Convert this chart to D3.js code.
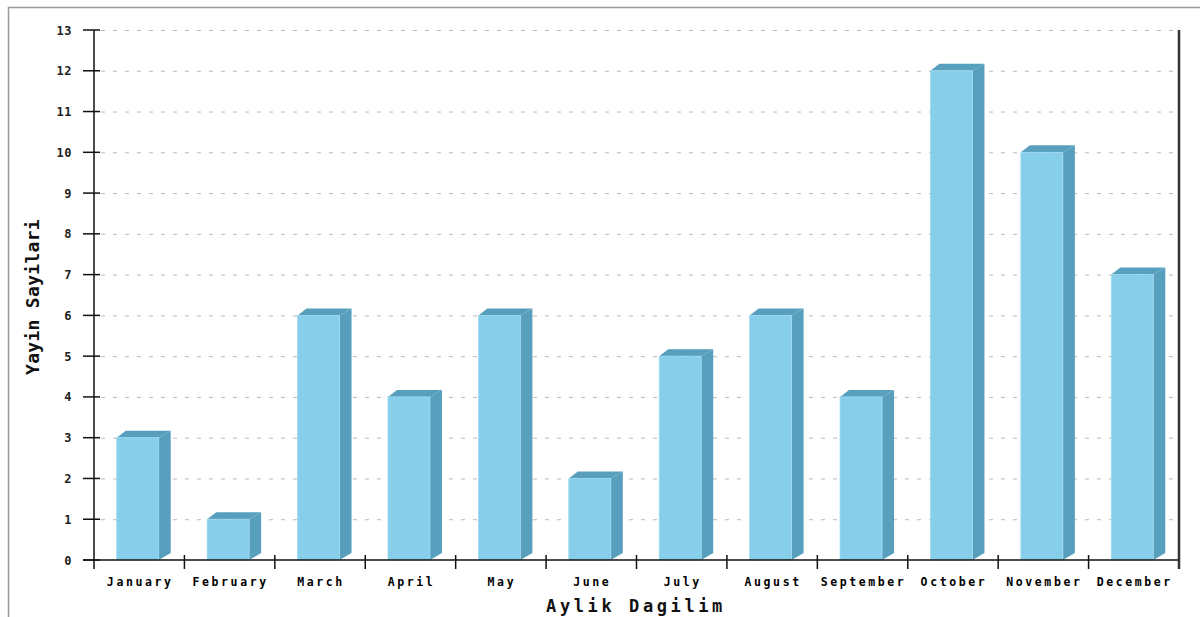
<!DOCTYPE html>
<html>
<head>
<meta charset="utf-8">
<script src="https://cdn.jsdelivr.net/npm/d3@7"></script>
<style>
  body { margin: 0; background: #fff; }
  svg { display: block; }
</style>
</head>
<body>
<div id="chart"></div>
<script>
var months = ["January","February","March","April","May","June","July","August","September","October","November","December"];
var counts = [3, 1, 6, 4, 6, 2, 5, 6, 4, 12, 10, 7];
var yTicks = d3.range(0, 14);

function drawChart(){
  var W = 1200, H = 617;
  var plotLeft = 94, plotRight = 1179, plotTop = 30, plotBottom = 560;
  var depthX = 12, depthY = 7;

  var svg = d3.select("#chart").append("svg")
    .attr("width", W).attr("height", H);

  // outer frame
  svg.append("path")
    .attr("d", "M8.5," + H + " L8.5,7.5 L" + W + ",7.5")
    .attr("fill", "none").attr("stroke", "#999").attr("stroke-width", 1.5);

  var x = d3.scaleBand().domain(months).range([plotLeft, plotRight]).padding(0);
  var y = d3.scaleLinear().domain([0, 13]).range([plotBottom, plotTop]);

  // grid
  svg.append("g").selectAll("line")
    .data(yTicks.filter(function(d){ return d > 0; }))
    .enter().append("line")
    .attr("x1", plotLeft + 7).attr("x2", plotRight - 4)
    .attr("y1", function(d){ return y(d) + 0.5; })
    .attr("y2", function(d){ return y(d) + 0.5; })
    .attr("stroke", "#bbb").attr("stroke-dasharray", "4,8");

  // bars
  var frontW = 42;
  var bars = svg.append("g").selectAll("g")
    .data(months.map(function(m, i){ return {m: m, v: counts[i]}; }))
    .enter().append("g");

  bars.each(function(d){
    var g = d3.select(this);
    var x0 = x(d.m) + x.bandwidth() / 2 - frontW / 2 - 1.5;
    var x1 = x0 + frontW;
    var yt = y(d.v), yb = y(0);
    g.append("path")
      .attr("d", "M" + x1 + "," + yt + " L" + (x1 + depthX) + "," + (yt - depthY) +
        " L" + (x1 + depthX) + "," + (yb - depthY) + " L" + x1 + "," + yb + "Z")
      .attr("fill", "#579fbd");
    g.append("path")
      .attr("d", "M" + x0 + "," + yt + " L" + (x0 + depthX - 3) + "," + (yt - depthY) +
        " L" + (x1 + depthX) + "," + (yt - depthY) + " L" + x1 + "," + yt + "Z")
      .attr("fill", "#579fbd");
    g.append("rect")
      .attr("x", x0).attr("y", yt)
      .attr("width", frontW).attr("height", yb - yt)
      .attr("fill", "#87ceeb").attr("stroke", "#9fd9f0").attr("stroke-width", 0.8);
  });

  // axes lines
  var axisCol = "#111";
  svg.append("line").attr("x1", plotLeft).attr("x2", plotLeft)
    .attr("y1", plotTop).attr("y2", plotBottom + 9).attr("stroke", axisCol).attr("stroke-width", 1.5);
  svg.append("line").attr("x1", plotLeft - 11).attr("x2", plotRight)
    .attr("y1", plotBottom).attr("y2", plotBottom).attr("stroke", axisCol).attr("stroke-width", 1.5);
  svg.append("line").attr("x1", plotRight).attr("x2", plotRight)
    .attr("y1", plotTop).attr("y2", plotBottom + 9).attr("stroke", "#333").attr("stroke-width", 2.5);

  // y ticks
  var yg = svg.append("g");
  yg.selectAll("line").data(yTicks).enter().append("line")
    .attr("x1", plotLeft - 11).attr("x2", plotLeft + 6)
    .attr("y1", function(d){ return y(d); }).attr("y2", function(d){ return y(d); })
    .attr("stroke", axisCol).attr("stroke-width", 1.5);
  yg.selectAll("text").data(yTicks).enter().append("text")
    .attr("x", 72).attr("y", function(d){ return y(d) + 4.5; })
    .attr("text-anchor", "end")
    .style("font-family", "DejaVu Sans Mono").style("font-weight", "bold")
    .style("font-size", "12px").style("letter-spacing", "0.5px").attr("fill", "#222")
    .text(function(d){ return d; });

  // x ticks
  var bounds = months.slice(1).map(function(m){ return x(m); });
  svg.append("g").selectAll("line").data(bounds).enter().append("line")
    .attr("x1", function(d){ return d; }).attr("x2", function(d){ return d; })
    .attr("y1", plotBottom - 5).attr("y2", plotBottom + 9)
    .attr("stroke", axisCol).attr("stroke-width", 1.5);

  svg.append("g").selectAll("text").data(months).enter().append("text")
    .attr("x", function(d){ return x(d) + x.bandwidth() / 2 + 1; })
    .attr("y", 586)
    .attr("text-anchor", "middle")
    .style("font-family", "DejaVu Sans Mono").style("font-size", "11.5px")
    .style("font-weight", "600")
    .style("letter-spacing", "2.6px").attr("fill", "#000")
    .text(function(d){ return d; });

  // titles
  svg.append("text")
    .attr("x", 636).attr("y", 612)
    .attr("text-anchor", "middle")
    .style("font-family", "DejaVu Sans Mono").style("font-weight", "bold")
    .style("font-size", "17px").style("letter-spacing", "3.6px").attr("fill", "#111")
    .text("Aylik Dagilim");

  svg.append("text")
    .attr("transform", "translate(39,297) rotate(-90)")
    .attr("text-anchor", "middle")
    .style("font-family", "DejaVu Sans Mono").style("font-weight", "bold")
    .style("font-size", "18px").style("letter-spacing", "0.3px").attr("fill", "#111")
    .text("Yayin Sayilari");
}

drawChart();
</script>
</body>
</html>
